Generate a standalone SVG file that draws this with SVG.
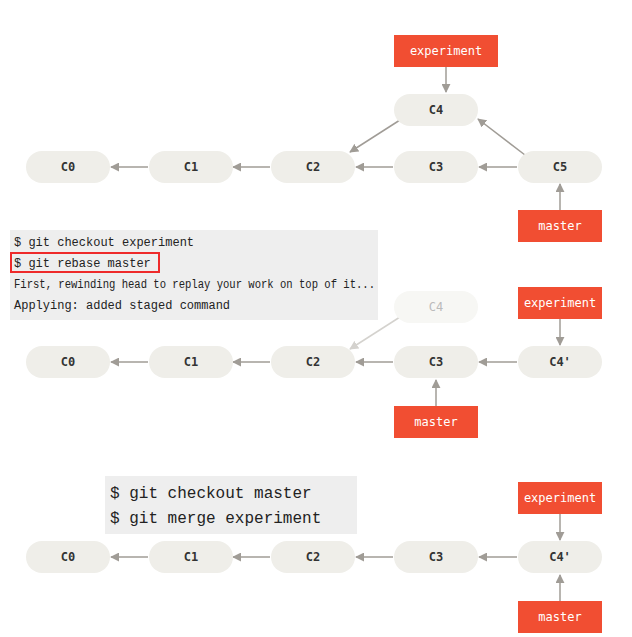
<svg xmlns="http://www.w3.org/2000/svg" width="632" height="637" viewBox="0 0 632 637">
<style>
.n{fill:#efeee9}.nt{font-family:"DejaVu Sans Mono",monospace;font-size:12px;font-weight:bold;fill:#333;text-anchor:middle}
.b{fill:#f14e32}.bt{font-family:"DejaVu Sans Mono",monospace;font-size:12px;fill:#fff;text-anchor:middle}
.c{stroke:#a09c96;stroke-width:1.5;fill:none;marker-end:url(#a)}
.tb{fill:#eeeeee}.t{font-family:"Liberation Mono",monospace;font-size:12px;fill:#222}
.t2{font-family:"Liberation Mono",monospace;font-size:16px;fill:#222}
</style>
<defs><marker id="a" viewBox="0 0 10 10" refX="9" refY="5" markerWidth="9" markerHeight="9" markerUnits="userSpaceOnUse" orient="auto"><path d="M0,0L10,5L0,10z" fill="#a09c96"/></marker>
<marker id="af" viewBox="0 0 10 10" refX="9" refY="5" markerWidth="9" markerHeight="9" markerUnits="userSpaceOnUse" orient="auto"><path d="M0,0L10,5L0,10z" fill="#d4d2ce"/></marker></defs>
<g id="connectors">
<path class="c" d="M148,167H111"/><path class="c" d="M270,167H233"/><path class="c" d="M393,167H356"/><path class="c" d="M517,167H479"/>
<path class="c" d="M400,120L350,152"/><path class="c" d="M525,155L478,119"/><path class="c" d="M446,67V92"/><path class="c" d="M560,210V184"/>
<path class="c" d="M148,362H111"/><path class="c" d="M270,362H233"/><path class="c" d="M393,362H356"/><path class="c" d="M517,362H479"/>
<path class="c" style="stroke:#d4d2ce;marker-end:url(#af)" d="M400,317L350,349"/><path class="c" d="M560,319V345"/><path class="c" d="M436,406V380"/>
<path class="c" d="M148,557H111"/><path class="c" d="M270,557H233"/><path class="c" d="M393,557H356"/><path class="c" d="M517,557H479"/>
<path class="c" d="M560,514V540"/><path class="c" d="M560,601V575"/>
</g>
<g id="r1">
<g id="r1c0"><rect class="n" x="26" y="151" width="84" height="32" rx="16"/><text class="nt" x="68" y="171">C0</text></g>
<g id="r1c1"><rect class="n" x="149" y="151" width="84" height="32" rx="16"/><text class="nt" x="191" y="171">C1</text></g>
<g id="r1c2"><rect class="n" x="271" y="151" width="84" height="32" rx="16"/><text class="nt" x="313" y="171">C2</text></g>
<g id="r1c3"><rect class="n" x="394" y="151" width="84" height="32" rx="16"/><text class="nt" x="436" y="171">C3</text></g>
<g id="r1c4"><rect class="n" x="394" y="94" width="84" height="32" rx="16"/><text class="nt" x="436" y="114">C4</text></g>
<g id="r1c5"><rect class="n" x="518" y="151" width="84" height="32" rx="16"/><text class="nt" x="560" y="171">C5</text></g>
<g id="r1exp"><rect class="b" x="394" y="35" width="104" height="32"/><text class="bt" x="446" y="55">experiment</text></g>
<g id="r1mas"><rect class="b" x="518" y="210" width="84" height="32"/><text class="bt" x="560" y="230">master</text></g>
</g>
<g id="cmd1"><rect class="tb" x="10" y="230" width="368" height="90"/>
<text class="t" x="14" y="246">$ git checkout experiment</text>
<rect x="11" y="253" width="148" height="19" fill="none" stroke="#ee2a2a" stroke-width="2"/>
<text class="t" x="14" y="267">$ git rebase master</text>
<text class="t" x="14" y="288" textLength="361" lengthAdjust="spacingAndGlyphs">First, rewinding head to replay your work on top of it...</text>
<text class="t" x="14" y="309">Applying: added staged command</text></g>
<g id="r2">
<g id="r2c0"><rect class="n" x="26" y="346" width="84" height="32" rx="16"/><text class="nt" x="68" y="366">C0</text></g>
<g id="r2c1"><rect class="n" x="149" y="346" width="84" height="32" rx="16"/><text class="nt" x="191" y="366">C1</text></g>
<g id="r2c2"><rect class="n" x="271" y="346" width="84" height="32" rx="16"/><text class="nt" x="313" y="366">C2</text></g>
<g id="r2c3"><rect class="n" x="394" y="346" width="84" height="32" rx="16"/><text class="nt" x="436" y="366">C3</text></g>
<g id="r2c4"><rect x="394" y="291" width="84" height="32" rx="16" fill="#f7f7f4"/><text class="nt" x="436" y="311" style="fill:#bbb;font-weight:normal">C4</text></g>
<g id="r2c4p"><rect class="n" x="518" y="346" width="84" height="32" rx="16"/><text class="nt" x="560" y="366">C4'</text></g>
<g id="r2exp"><rect class="b" x="518" y="287" width="84" height="32"/><text class="bt" x="560" y="307">experiment</text></g>
<g id="r2mas"><rect class="b" x="394" y="406" width="84" height="32"/><text class="bt" x="436" y="426">master</text></g>
</g>
<g id="cmd2"><rect class="tb" x="105" y="476" width="252" height="58"/>
<text class="t2" x="110" y="498">$ git checkout master</text>
<text class="t2" x="110" y="523">$ git merge experiment</text></g>
<g id="r3">
<g id="r3c0"><rect class="n" x="26" y="541" width="84" height="32" rx="16"/><text class="nt" x="68" y="561">C0</text></g>
<g id="r3c1"><rect class="n" x="149" y="541" width="84" height="32" rx="16"/><text class="nt" x="191" y="561">C1</text></g>
<g id="r3c2"><rect class="n" x="271" y="541" width="84" height="32" rx="16"/><text class="nt" x="313" y="561">C2</text></g>
<g id="r3c3"><rect class="n" x="394" y="541" width="84" height="32" rx="16"/><text class="nt" x="436" y="561">C3</text></g>
<g id="r3c4p"><rect class="n" x="518" y="541" width="84" height="32" rx="16"/><text class="nt" x="560" y="561">C4'</text></g>
<g id="r3exp"><rect class="b" x="518" y="482" width="84" height="32"/><text class="bt" x="560" y="502">experiment</text></g>
<g id="r3mas"><rect class="b" x="518" y="601" width="84" height="32"/><text class="bt" x="560" y="621">master</text></g>
</g>
</svg>
